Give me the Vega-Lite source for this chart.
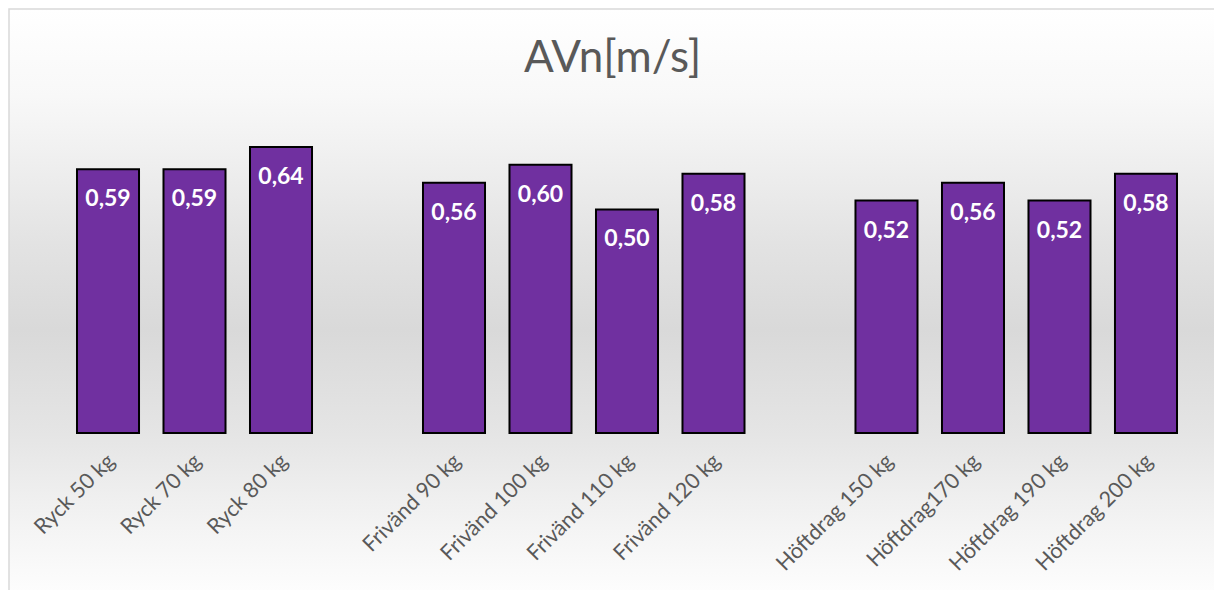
{
  "$schema": "https://vega.github.io/schema/vega-lite/v6.json",
  "width": 1214,
  "height": 590,
  "autosize": {"type": "fit", "contains": "padding"},
  "padding": {"left": 9, "top": 9, "right": -2, "bottom": -2},
  "background": "#ffffff",
  "config": {
    "locale": {"number": {"decimal": ",", "thousands": "\u00a0", "grouping": [3], "currency": ["", " kr"]}},
    "view": {"stroke": "#d9d9d9", "strokeWidth": 1.5},
    "font": "Lato"
  },
  "view": {
    "fill": {
      "gradient": "linear",
      "x1": 0, "y1": 0, "x2": 0, "y2": 1,
      "stops": [
        {"offset": 0, "color": "#ffffff"},
        {"offset": 0.15, "color": "#f8f8f8"},
        {"offset": 0.25, "color": "#f0f0f0"},
        {"offset": 0.4, "color": "#e3e3e3"},
        {"offset": 0.55, "color": "#d9d9d9"},
        {"offset": 0.73, "color": "#e5e5e5"},
        {"offset": 0.88, "color": "#f3f3f3"},
        {"offset": 1, "color": "#fdfdfd"}
      ]
    }
  },
  "title": {
    "text": "AVn[m/s]",
    "fontSize": 44,
    "font": "Lato",
    "fontWeight": "normal",
    "color": "#595959",
    "anchor": "middle",
    "offset": -107,
    "baseline": "alphabetic"
  },
  "data": {
    "values": [
      {"ovning": "Ryck 50 kg", "avn": 0.59},
      {"ovning": "Ryck 70 kg", "avn": 0.59},
      {"ovning": "Ryck 80 kg", "avn": 0.64},
      {"ovning": "Frivänd 90 kg", "avn": 0.56},
      {"ovning": "Frivänd 100 kg", "avn": 0.60},
      {"ovning": "Frivänd 110 kg", "avn": 0.50},
      {"ovning": "Frivänd 120 kg", "avn": 0.58},
      {"ovning": "Höftdrag 150 kg", "avn": 0.52},
      {"ovning": "Höftdrag170 kg", "avn": 0.56},
      {"ovning": "Höftdrag 190 kg", "avn": 0.52},
      {"ovning": "Höftdrag 200 kg", "avn": 0.58}
    ]
  },
  "encoding": {
    "x": {
      "field": "ovning",
      "type": "nominal",
      "scale": {
        "domain": ["Ryck 50 kg", "Ryck 70 kg", "Ryck 80 kg", " ", "Frivänd 90 kg", "Frivänd 100 kg", "Frivänd 110 kg", "Frivänd 120 kg", "  ", "Höftdrag 150 kg", "Höftdrag170 kg", "Höftdrag 190 kg", "Höftdrag 200 kg"],
        "paddingInner": 0.283,
        "paddingOuter": 0.6185,
        "align": 0.6355
      },
      "axis": {
        "title": null,
        "labelAngle": -45,
        "labelAlign": "right",
        "labelBaseline": "top",
        "labelPadding": 17,
        "labelOffset": -4,
        "labelFontSize": 21.5,
        "labelFont": "Lato",
        "labelColor": "#595959",
        "ticks": false,
        "domain": false,
        "offset": -159,
        "labelOverlap": false,
        "labelLimit": 0
      }
    },
    "y": {
      "field": "avn",
      "type": "quantitative",
      "scale": {"domain": [-0.3557, 0.9485], "nice": false, "zero": false},
      "axis": null
    }
  },
  "layer": [
    {
      "mark": {"type": "bar", "fill": "#7030a0", "stroke": "#000000", "strokeWidth": 2},
      "encoding": {"y2": {"datum": 0}}
    },
    {
      "mark": {"type": "text", "color": "#ffffff", "fontSize": 23, "fontWeight": "bold", "baseline": "alphabetic", "dy": 37},
      "encoding": {"text": {"field": "avn", "type": "quantitative", "format": ".2f"}}
    }
  ]
}
